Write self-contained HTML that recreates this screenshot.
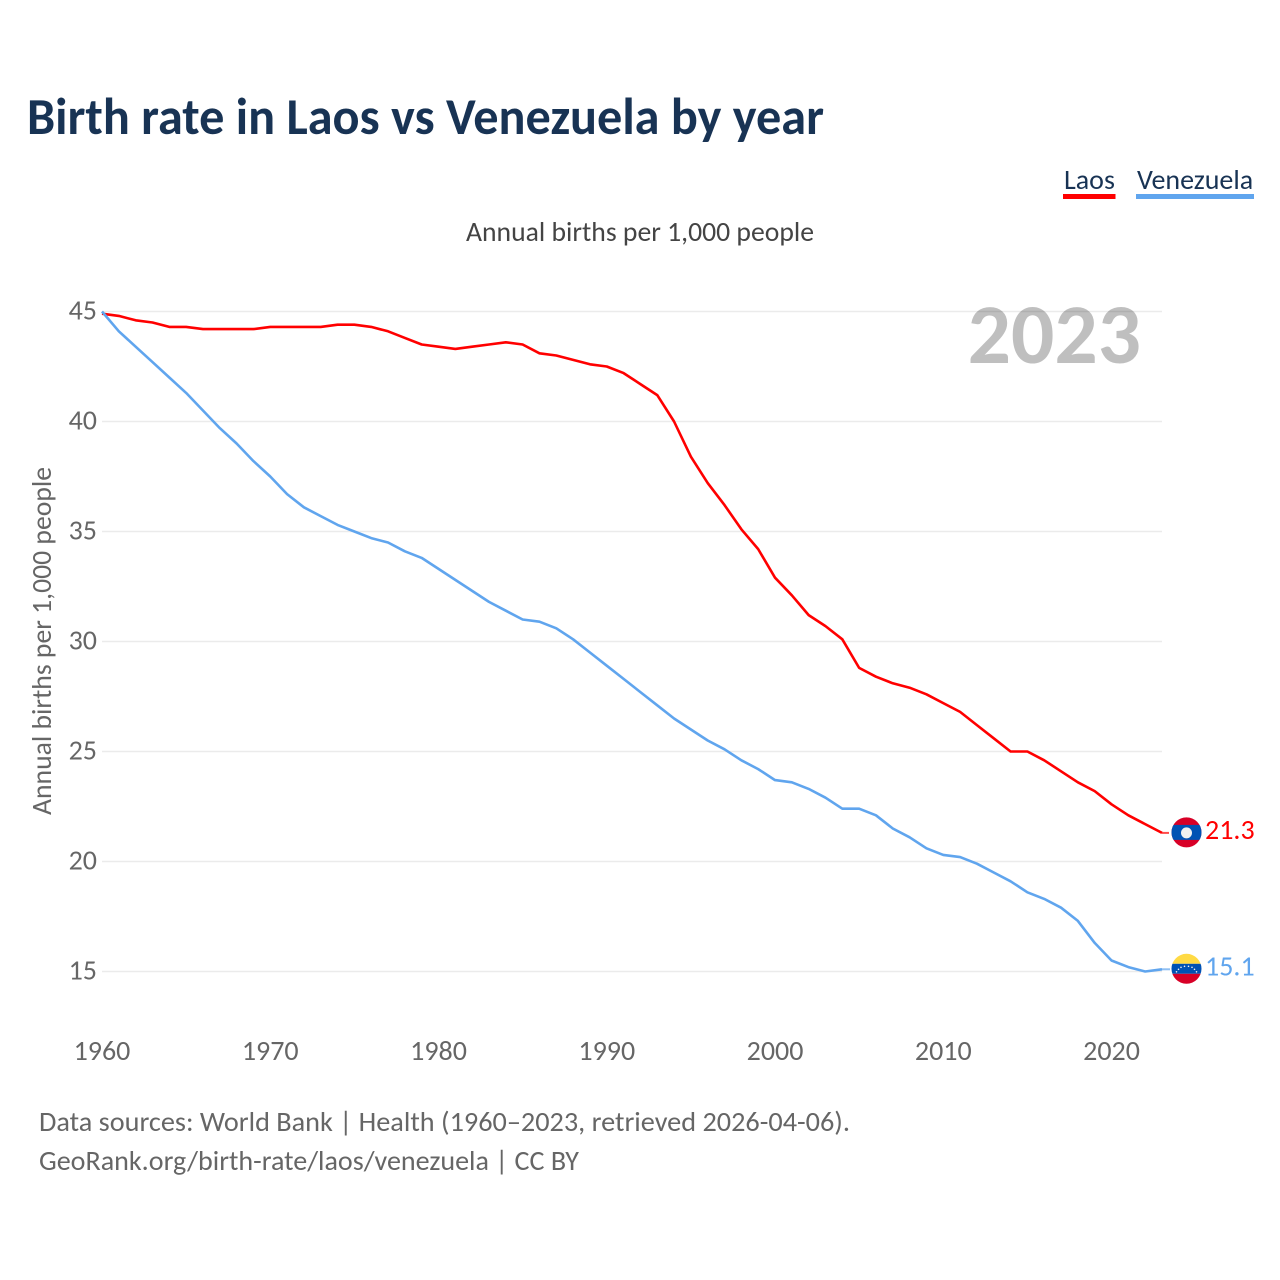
<!DOCTYPE html>
<html lang="en">
<head>
<meta charset="utf-8">
<title>Birth rate in Laos vs Venezuela by year</title>
<style>
html,body{margin:0;padding:0;background:#fff;width:1280px;height:1280px;overflow:hidden}
svg{display:block}
text{font-family:"Carlito","Lato","Liberation Sans",sans-serif}
</style>
</head>
<body>
<svg id="chart" xmlns="http://www.w3.org/2000/svg" width="1280" height="1280" viewBox="0 0 1280 1280">
  <rect x="0" y="0" width="1280" height="1280" fill="#fff"/>
  <defs>
    <clipPath id="flag-clip"><circle cx="0" cy="0" r="15"/></clipPath>
  </defs>
  <text x="27" y="134" font-size="52" font-weight="700" fill="#183354" textLength="797" lengthAdjust="spacingAndGlyphs">Birth rate in Laos vs Venezuela by year</text>

  <g>
    <g>
      <text x="1064" y="189" font-size="28" fill="#183354">Laos</text>
      <rect x="1063" y="194" width="52.500" height="5" fill="#ff0000"/>
    </g>
    <g>
      <text x="1137" y="189" font-size="28" fill="#183354">Venezuela</text>
      <rect x="1136" y="194" width="118" height="5" fill="#60a5ee"/>
    </g>
  </g>

  <text x="466" y="241" font-size="28" fill="#444" textLength="348" lengthAdjust="spacingAndGlyphs">Annual births per 1,000 people</text>
  <text transform="translate(51,815) rotate(-90)" x="0" y="0" font-size="28" fill="#666" textLength="348" lengthAdjust="spacingAndGlyphs">Annual births per 1,000 people</text>

  <g id="grid"></g>
  <g id="y-ticks"></g>
  <g id="x-ticks"></g>

  <text x="1141" y="363" text-anchor="end" font-size="85.500" font-weight="700" fill="#000" fill-opacity="0.25">2023</text>

  <g id="series"></g>

  <g id="flag-laos" clip-path="url(#flag-clip)">
    <rect x="-16" y="-16" width="32" height="32" fill="#d80027"/>
    <rect x="-16" y="-7.500" width="32" height="15" fill="#0052b4"/>
    <circle cx="0" cy="0.500" r="5.500" fill="#f0f0f0"/>
  </g>
  <g id="flag-venezuela" clip-path="url(#flag-clip)">
    <rect x="-16" y="-16" width="32" height="11" fill="#ffda44"/>
    <rect x="-16" y="-5" width="32" height="10" fill="#0052b4"/>
    <rect x="-16" y="5" width="32" height="11" fill="#d80027"/>
    <g fill="#f0f0f0">
      <circle cx="-10" cy="3" r="0.800"/><circle cx="-8" cy="0.500" r="0.800"/><circle cx="-5.500" cy="-1.500" r="0.800"/>
      <circle cx="-2" cy="-2.500" r="0.800"/><circle cx="2" cy="-2.500" r="0.800"/><circle cx="5.500" cy="-1.500" r="0.800"/>
      <circle cx="8" cy="0.500" r="0.800"/><circle cx="10" cy="3" r="0.800"/>
    </g>
  </g>
  <text id="end-laos" x="1205" font-size="28" fill="#ff0000"></text>
  <text id="end-venezuela" x="1205" font-size="28" fill="#60a5ee"></text>

  <text x="39" y="1131" font-size="28" fill="#666" textLength="811" lengthAdjust="spacingAndGlyphs">Data sources: World Bank | Health (1960–2023, retrieved 2026-04-06).</text>
  <text x="39" y="1170" font-size="28" fill="#666" textLength="540" lengthAdjust="spacingAndGlyphs">GeoRank.org/birth-rate/laos/venezuela | CC BY</text>
</svg>
<script>
const startYear = 1960;
const laosValues = [44.9,44.8,44.6,44.5,44.3,44.3,44.2,44.2,44.2,44.2,44.3,44.3,44.3,44.3,44.4,44.4,44.3,44.1,43.8,43.5,43.4,43.3,43.4,43.5,43.6,43.5,43.1,43.0,42.8,42.6,42.5,42.2,41.7,41.2,40.0,38.4,37.2,36.2,35.1,34.2,32.9,32.1,31.2,30.7,30.1,28.8,28.4,28.1,27.9,27.6,27.2,26.8,26.2,25.6,25.0,25.0,24.6,24.1,23.6,23.2,22.6,22.1,21.7,21.3];
const venezuelaValues = [45.0,44.1,43.4,42.7,42.0,41.3,40.5,39.7,39.0,38.2,37.5,36.7,36.1,35.7,35.3,35.0,34.7,34.5,34.1,33.8,33.3,32.8,32.3,31.8,31.4,31.0,30.9,30.6,30.1,29.5,28.9,28.3,27.7,27.1,26.5,26.0,25.5,25.1,24.6,24.2,23.7,23.6,23.3,22.9,22.4,22.4,22.1,21.5,21.1,20.6,20.3,20.2,19.9,19.5,19.1,18.6,18.3,17.9,17.3,16.3,15.5,15.2,15.0,15.1];
const yTickValues = [15,20,25,30,35,40,45];
const xTickValues = [1960,1970,1980,1990,2000,2010,2020];

const NS = 'http://www.w3.org/2000/svg';
const plotLeft = 102, plotRight = 1162, plotTop = 311.5, plotBottom = 971.5;
const yearSpan = laosValues.length - 1;
function xScale(year) { return plotLeft + (year - startYear) * (plotRight - plotLeft) / yearSpan; }
function yScale(v) { return plotBottom - (v - 15) * (plotBottom - plotTop) / 30; }
function make(tag, attrs, parent) {
  const el = document.createElementNS(NS, tag);
  for (const k in attrs) el.setAttribute(k, attrs[k]);
  parent.appendChild(el);
  return el;
}

const grid = document.getElementById('grid');
const yTicks = document.getElementById('y-ticks');
const xTicks = document.getElementById('x-ticks');
const seriesGroup = document.getElementById('series');

yTickValues.forEach(function (v) {
  const line = make('line', {x1: plotLeft, x2: plotRight, y1: yScale(v), y2: yScale(v), stroke: '#ebebeb', 'stroke-width': 1.6}, grid);
  
  
  const t = make('text', {x: 97, y: yScale(v) + 8, 'text-anchor': 'end', 'font-size': 28, fill: '#666'}, yTicks);
  t.textContent = v;
  
  
});

xTickValues.forEach(function (yr) {
  const t = make('text', {x: xScale(yr), y: 1060, 'text-anchor': 'middle', 'font-size': 28, fill: '#666'}, xTicks);
  t.textContent = yr;
  
  
});

function pointsFor(values) {
  return values.map(function (v, i) { return xScale(startYear + i).toFixed(2) + ',' + yScale(v).toFixed(2); }).join(' ');
}

const laosLast = laosValues[laosValues.length - 1];
const venezuelaLast = venezuelaValues[venezuelaValues.length - 1];

const laosLead = make('line', {x1: plotRight, x2: 1169, y1: yScale(laosLast), y2: yScale(laosLast), stroke: '#ff0000', 'stroke-width': 2, opacity: 0.7}, seriesGroup);


const venezuelaLead = make('line', {x1: plotRight, x2: 1170, y1: yScale(venezuelaLast), y2: yScale(venezuelaLast), stroke: '#60a5ee', 'stroke-width': 2, opacity: 0.7}, seriesGroup);



const laosLine = make('polyline', {points: pointsFor(laosValues), fill: 'none', stroke: '#ff0000', 'stroke-width': 2.6, 'stroke-linejoin': 'round'}, seriesGroup);


const venezuelaLine = make('polyline', {points: pointsFor(venezuelaValues), fill: 'none', stroke: '#60a5ee', 'stroke-width': 2.6, 'stroke-linejoin': 'round'}, seriesGroup);



document.getElementById('flag-laos').setAttribute('transform', 'translate(1186.5,' + (yScale(laosLast) - 0.5) + ')');
document.getElementById('flag-venezuela').setAttribute('transform', 'translate(1186.5,' + (yScale(venezuelaLast) - 0.5) + ')');

const endLaos = document.getElementById('end-laos');
endLaos.setAttribute('y', yScale(laosLast) + 6);
endLaos.textContent = laosLast.toFixed(1);
const endVenezuela = document.getElementById('end-venezuela');
endVenezuela.setAttribute('y', yScale(venezuelaLast) + 6);
endVenezuela.textContent = venezuelaLast.toFixed(1);
</script>
</body>
</html>
